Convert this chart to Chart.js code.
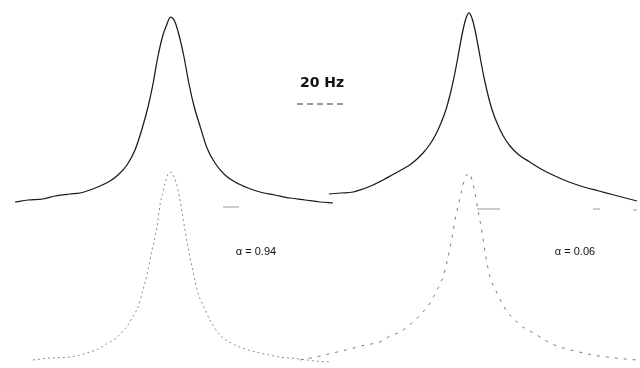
<!DOCTYPE html>
<html>
<head>
<meta charset="utf-8">
<script src="https://cdn.jsdelivr.net/npm/chart.js@4/dist/chart.umd.min.js"></script>
<style>
html,body{margin:0;padding:0;background:#fff;}
#wrap{width:640px;height:368px;}
</style>
</head>
<body>
<div id="wrap"><canvas id="c" width="640" height="368"></canvas></div>
<script>
// Frequency axis in Hz (20 Hz scale bar), intensities in arbitrary units above each baseline
const ulHz  = [6, 11.2, 17.2, 22, 28, 32, 36, 40, 44, 47.2, 50.8, 54, 56.8, 59.2, 61.2, 63.2, 65.2, 66.8, 67.6, 68.4, 69.2, 70, 71.6, 73.6, 75.6, 77.6, 80, 82.8, 86, 90, 94, 99.2, 104, 110, 116, 122, 128, 133.2];
const ulInt = [1, 3, 4, 7, 9, 10, 13, 17, 22, 28, 38, 53, 74, 96, 119, 147, 168, 179, 184, 186, 184.5, 181, 168, 146, 119, 97, 77, 55, 40, 28, 21, 15, 11, 8, 5, 3, 1, 0];

const urHz  = [131.6, 136.4, 141.2, 145.2, 149.2, 153.2, 157.2, 161.2, 164.4, 166.8, 169.2, 171.2, 174, 176.4, 178.4, 180, 181.6, 182.8, 184, 185.2, 186.4, 187.6, 188.8, 190, 191.2, 192.4, 193.6, 195.2, 196.8, 198.8, 201.2, 204, 207.6, 211.6, 216.4, 222, 227.6, 233.6, 239.6, 245.6, 254.8];
const urInt = [9, 10, 11, 14, 18, 23, 28.5, 34, 39, 44, 50, 56, 67, 80, 93.5, 108, 125.6, 141, 157.6, 173, 184.7, 190, 184.7, 173, 157.6, 141, 125.6, 108, 93.5, 80, 67.5, 57, 48, 41.5, 34, 27, 21, 16, 12, 8, 2];

const llHz  = [13.2, 20, 28, 36, 40, 43.2, 46, 48.8, 51.2, 52.8, 55.2, 57.2, 59.2, 60.8, 62, 62.8, 64, 65.2, 66.4, 67.2, 68, 68.8, 69.2, 70.4, 72, 73.2, 74.8, 76.8, 79.2, 81.2, 84, 88, 93.2, 98, 104, 112, 120, 126, 132];
const llInt = [2, 4, 5, 10, 14, 19, 23, 30, 37, 44, 55, 72, 92, 112, 125, 135, 157, 170, 182, 188, 190, 189, 187, 180, 162, 144, 120, 95, 69, 57, 42, 27, 18, 13, 9, 5, 3, 1, 0];

const lrHz  = [120, 128, 133.2, 140, 146, 152, 156, 160, 165.2, 168.8, 172, 174.8, 177.2, 178.8, 180, 181.2, 182.4, 184, 185.2, 186.4, 187, 187.6, 188.2, 188.8, 190, 191.2, 192.8, 194, 195.2, 196, 198.8, 201.2, 203.2, 205.2, 208, 211.2, 214.8, 219.2, 224, 230, 237.2, 246, 254.8];
const lrInt = [2, 6, 9, 13, 17, 20, 26, 30, 40, 49, 59, 72, 85, 100, 114, 130, 147, 164, 177, 186, 188, 189, 187, 182, 169, 152, 130, 110, 94, 85, 69, 57, 49, 44, 37, 32, 27, 20, 15, 11, 7, 4, 2];

// 20 Hz scale bar (start, end in Hz; height on upper frame)
const scaleBarHz = [118.8, 138.8];
const scaleBarLevel = 99;
const scaleLabel = "20 Hz";
const alphaLabels = ["α = 0.94", "α = 0.06"];
const alphaHz = [102.4, 230];
const alphaLevel = 110;

// small reference ticks below the upper traces
const markHz  = [89.2, 95.6, null, 190.8, 200, null, 237.2, 240, null, 253.2, 254.8];
const markInt = [-4, -4, null, -6, -6, null, -6, -6, null, -7, -7];

function pts(xs, ys){ return xs.map((x,i)=> ({x:x, y: ys[i]})); }

const textPlugin = {
  id:'texts',
  afterDatasetsDraw(chart){
    const ctx = chart.ctx, xs = chart.scales.x, yt = chart.scales.yTop, yb = chart.scales.yBot;
    ctx.save();
    ctx.fillStyle = '#111';
    ctx.textAlign = 'center';
    ctx.textBaseline = 'middle';
    ctx.font = 'bold 14px "DejaVu Sans", sans-serif';
    ctx.fillText(scaleLabel, xs.getPixelForValue((scaleBarHz[0]+scaleBarHz[1])/2), yt.getPixelForValue(scaleBarLevel) - 21);
    ctx.font = '11px "Liberation Sans", Arial, sans-serif';
    alphaLabels.forEach((t,i)=>{
      ctx.fillText(t, xs.getPixelForValue(alphaHz[i]), yb.getPixelForValue(alphaLevel));
    });
    ctx.restore();
  }
};

new Chart(document.getElementById('c'), {
  type: 'scatter',
  data: {
    datasets: [
      { label:'upper left', data: pts(ulHz, ulInt), yAxisID:'yTop', showLine:true, borderColor:'#1a1a1a', borderWidth:1.25, pointRadius:0, cubicInterpolationMode:'monotone' },
      { label:'upper right', data: pts(urHz, urInt), yAxisID:'yTop', showLine:true, borderColor:'#1a1a1a', borderWidth:1.25, pointRadius:0, cubicInterpolationMode:'monotone' },
      { label:'lower left', data: pts(llHz, llInt), yAxisID:'yBot', showLine:true, borderColor:'#8a8a8a', borderWidth:1, borderDash:[2,3], pointRadius:0, cubicInterpolationMode:'monotone' },
      { label:'lower right', data: pts(lrHz, lrInt), yAxisID:'yBot', showLine:true, borderColor:'#7a7a7a', borderWidth:1, borderDash:[3,6], pointRadius:0, cubicInterpolationMode:'monotone' },
      { label:'scale bar', data: pts(scaleBarHz, [scaleBarLevel, scaleBarLevel]), yAxisID:'yTop', showLine:true, borderColor:'#333', borderWidth:1, borderDash:[6,4], pointRadius:0 },
      { label:'marks', data: pts(markHz, markInt), yAxisID:'yTop', showLine:true, spanGaps:false, borderColor:'#999', borderWidth:1, pointRadius:0 }
    ]
  },
  options: {
    responsive:false,
    animation:false,
    layout:{padding:0},
    plugins:{legend:{display:false}, tooltip:{enabled:false}},
    scales:{
      x:{type:'linear', min:0, max:256, display:false},
      yTop:{type:'linear', min:-165, max:203, display:false},
      yBot:{type:'linear', min:-6, max:362, display:false}
    }
  },
  plugins:[textPlugin]
});
</script>
</body>
</html>
